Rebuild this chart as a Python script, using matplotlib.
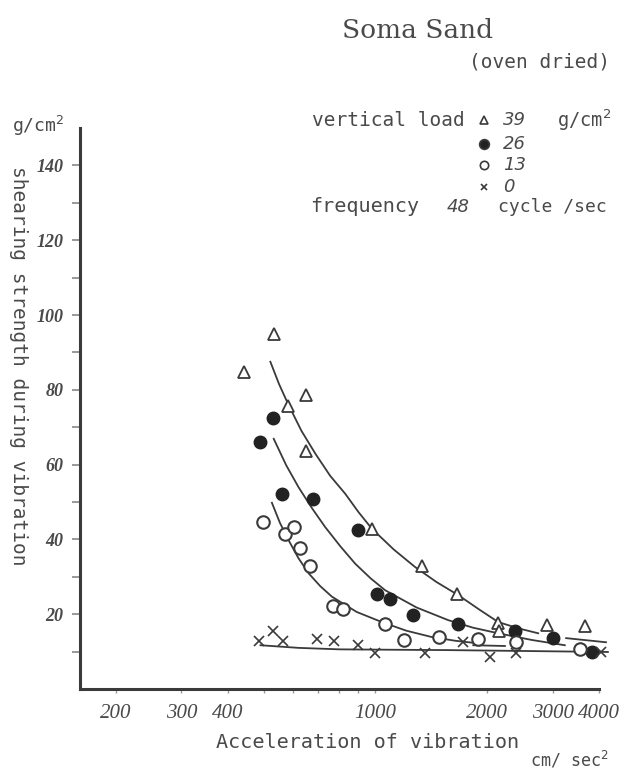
import matplotlib
matplotlib.use("Agg")
import matplotlib.pyplot as plt
from matplotlib.lines import Line2D

# measured points, vertical load 39 / 26 / 13 / 0 g/cm2
x39 = [442, 532, 581, 649, 649, 977, 1332, 1661, 2132, 2154, 2905, 3668]
y39 = [84.8, 94.9, 75.7, 78.6, 63.7, 42.7, 32.8, 25.5, 17.7, 15.5, 17.1, 16.8]
x26 = [490, 530, 560, 678, 900, 1008, 1095, 1265, 1664, 2374, 3009, 3831]
y26 = [66.1, 72.5, 52.2, 50.7, 42.4, 25.5, 24.0, 19.9, 17.5, 15.5, 13.7, 9.9]
x13 = [498, 572, 605, 625, 665, 768, 820, 1062, 1197, 1486, 1892, 2384, 3550]
y13 = [44.6, 41.5, 43.3, 37.8, 32.8, 22.1, 21.3, 17.3, 13.1, 13.8, 13.3, 12.5, 10.6]
x0 = [485, 529, 562, 695, 771, 896, 994, 1360, 1724, 2033, 2384, 4051]
y0 = [12.9, 15.5, 12.9, 13.3, 12.9, 11.7, 9.7, 9.7, 12.6, 8.6, 9.5, 9.9]

# hand drawn curves
c39_x = [521, 550, 581, 632, 689, 755, 829, 900, 977, 1120, 1279, 1460, 1671, 1900, 2141,
         2430, 2743]
c39_y = [87.5, 81.5, 76.3, 69.0, 62.9, 57.0, 52.2, 47.3, 42.9, 37.3, 32.6, 28.6, 25.1, 21.3,
         17.9, 16.2, 14.9]
c39b_x = [3262, 4178]
c39b_y = [13.6, 12.5]
c26_x = [532, 575, 621, 675, 732, 805, 882, 970, 1062, 1290, 1571, 1830, 2141, 2640, 3236]
c26_y = [66.9, 59.8, 53.9, 48.3, 43.3, 38.1, 33.5, 29.6, 26.4, 21.8, 18.4, 16.4, 14.9, 13.1,
         11.7]
c13_x = [526, 553, 584, 620, 661, 710, 763, 890, 1040, 1210, 1417, 1640, 1892]
c13_y = [49.8, 44.4, 39.7, 35.0, 30.9, 27.5, 24.7, 20.6, 17.9, 15.6, 13.9, 12.9, 12.2]
c13b_x = [1834, 2232]
c13b_y = [11.7, 11.5]
c0_x = [490, 620, 800, 1100, 1571, 4227]
c0_y = [11.7, 11.0, 10.6, 10.5, 10.4, 9.9]

xticks = [200, 300, 400, 1000, 2000, 3000, 4000]
xminor = [500, 600, 700, 800, 900]
yticks = [20, 40, 60, 80, 100, 120, 140]
yminor = [10, 30, 50, 70, 90, 110, 130]

W, H = 623, 771
ink = "#3a3a3a"
txt = "#4a4a4a"
hand = "DejaVu Sans Mono"
num = "Liberation Serif"


def fx(x):
    return x / W


def fy(y):
    return 1 - y / H


fig = plt.figure(figsize=(W / 100, H / 100), dpi=100)
ax = fig.add_axes([fx(80), fy(689), fx(599) - fx(80), fy(128) - fy(689)])

ax.set_xscale("log")
ax.set_xlim(160, 4000)
ax.set_ylim(0, 150)

for cx, cy in [(c39_x, c39_y), (c39b_x, c39b_y), (c26_x, c26_y),
               (c13_x, c13_y), (c13b_x, c13b_y), (c0_x, c0_y)]:
    ax.plot(cx, cy, color=ink, lw=1.3, clip_on=False, solid_joinstyle="round")

ax.plot(x39, y39, ls="none", marker="^", ms=8, mfc="white", mec=ink, mew=1.3, clip_on=False)
ax.plot(x26, y26, ls="none", marker="o", ms=9, mfc="#222222", mec="#222222", clip_on=False)
ax.plot(x13, y13, ls="none", marker="o", ms=9, mfc="white", mec=ink, mew=1.5, clip_on=False)
ax.plot(x0, y0, ls="none", marker="x", ms=7, mec=ink, mew=1.2, clip_on=False)

for s in ["top", "right"]:
    ax.spines[s].set_visible(False)
for s in ["left", "bottom"]:
    ax.spines[s].set_color(ink)
    ax.spines[s].set_linewidth(2.2)

ax.set_xticks(xticks)
ax.set_xticklabels([str(v) for v in xticks])
ax.set_xticks(xminor, minor=True)
ax.set_xticklabels([""] * len(xminor), minor=True)
ax.set_yticks(yticks)
ax.set_yticklabels([str(v) for v in yticks])
ax.set_yticks(yminor, minor=True)

ax.tick_params(axis="x", which="both", direction="out", length=3, width=1, colors="#999999",
               labelcolor=txt, labelsize=15, pad=8)
ax.tick_params(axis="y", which="both", direction="out", length=6, width=1.2, colors="#888888",
               labelcolor=txt, labelsize=13, pad=6)
for lab in ax.get_xticklabels():
    lab.set_fontfamily(num)
    lab.set_fontstyle("italic")
for lab in ax.get_yticklabels():
    lab.set_fontfamily(num)
    lab.set_fontstyle("italic")
    lab.set_fontweight("bold")

# titles and labels
fig.text(fx(418), fy(30), "Soma Sand", family="DejaVu Serif", fontsize=19, color=txt,
         ha="center", va="center")
fig.text(fx(610), fy(62), "(oven dried)", family=hand, fontsize=14, color=txt,
         ha="right", va="center")
fig.text(fx(12), fy(126), "g/cm$^2$", family=hand, fontsize=13, color=txt, ha="left", va="center")
fig.text(fx(18), fy(366), "shearing strength during vibration", family=hand, fontsize=14,
         color=txt, rotation=-90, ha="center", va="center")
fig.text(fx(368), fy(742), "Acceleration of vibration", family=hand, fontsize=14.5,
         color=txt, ha="center", va="center")
fig.text(fx(608), fy(760), "cm/ sec$^2$", family=hand, fontsize=12, color=txt,
         ha="right", va="center")

# legend
fig.text(fx(312), fy(120), "vertical load", family=hand, fontsize=14, color=txt,
         ha="left", va="center")
fig.text(fx(557), fy(120), "g/cm$^2$", family=hand, fontsize=13.5, color=txt,
         ha="left", va="center")
leg = [("^", "white", 6, "39", 120), ("o", "#222222", 7, "26", 144),
       ("o", "white", 6, "13", 165), ("x", "none", 5, "0", 187)]
for mk, fc, ms, lbl, yy in leg:
    fig.add_artist(Line2D([fx(484)], [fy(yy)], transform=fig.transFigure, ls="none",
                          marker=mk, ms=ms, mfc=fc, mec=ink, mew=1.2))
    fig.text(fx(503), fy(yy), lbl, family="DejaVu Sans", style="italic", fontsize=13,
             color=txt, ha="left", va="center")
fig.text(fx(310), fy(207), "frequency", family=hand, fontsize=14.5, color=txt,
         ha="left", va="center")
fig.text(fx(447), fy(207), "48", family="DejaVu Sans", style="italic", fontsize=13,
         color=txt, ha="left", va="center")
fig.text(fx(607), fy(207), "cycle /sec", family=hand, fontsize=13, color=txt,
         ha="right", va="center")

fig.savefig("out.png", dpi=100, facecolor="white")
